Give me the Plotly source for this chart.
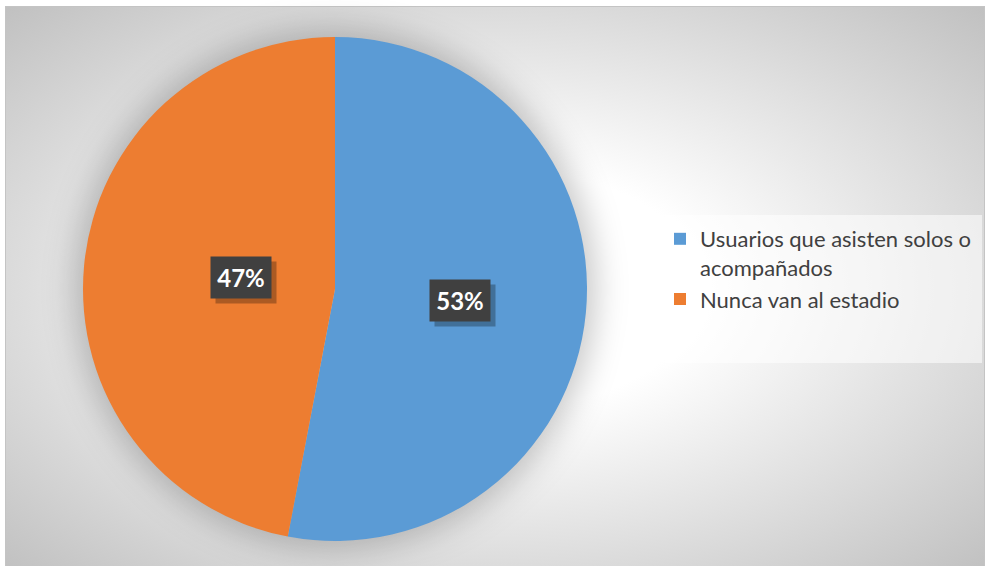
import base64
import math
import plotly.graph_objects as go

# Survey shares
categories = ["Usuarios que asisten solos o<br>acompañados", "Nunca van al estadio"]
values = [53, 47]
colors = ["#5B9BD5", "#ED7D31"]

W, H = 985, 566
FONT = "Lato"

# Pie placement (paper fractions)
dom_x = [83 / W, 587 / W]
dom_y = [25 / H, 529 / H]

pie_cx = (dom_x[0] + dom_x[1]) / 2 * W
pie_cy_up = (dom_y[0] + dom_y[1]) / 2 * H          # from bottom
pie_r = min((dom_x[1] - dom_x[0]) * W, (dom_y[1] - dom_y[0]) * H) / 2

# Chart-area background: radial grey gradient, frame and soft halo behind the pie
svg = f'''<svg xmlns="http://www.w3.org/2000/svg" width="{W}" height="{H}" viewBox="0 0 {W} {H}">
<defs>
<radialGradient id="bg" cx="0.5" cy="0.5" r="0.71">
<stop offset="0.3" stop-color="#ffffff"/>
<stop offset="1" stop-color="#c0c0c0"/>
</radialGradient>
<filter id="soft" x="-30%" y="-30%" width="160%" height="160%">
<feGaussianBlur stdDeviation="16"/>
</filter>
</defs>
<rect width="{W}" height="{H}" fill="#ffffff"/>
<rect x="5.5" y="6.5" width="979" height="565" fill="url(#bg)" stroke="#c4c4c4" stroke-width="1"/>
<circle cx="{pie_cx:.1f}" cy="{H - pie_cy_up:.1f}" r="{pie_r + 8:.1f}" fill="#000000" fill-opacity="0.22" filter="url(#soft)"/>
</svg>'''
bg_uri = "data:image/svg+xml;base64," + base64.b64encode(svg.encode("utf-8")).decode("ascii")

fig = go.Figure(
    go.Pie(
        labels=categories,
        values=values,
        marker=dict(colors=colors, line=dict(width=0)),
        sort=False,
        direction="clockwise",
        rotation=0,
        textinfo="none",
        hoverinfo="label+percent",
        domain=dict(x=dom_x, y=dom_y),
    )
)

# Percentage labels in dark boxes at half radius, middle of each slice
total = sum(values)
start = 0.0
annotations = []
for v in values:
    frac = v / total
    mid = (start + frac / 2) * 2 * math.pi
    start += frac
    px = pie_cx + 0.5 * pie_r * math.sin(mid)
    py = pie_cy_up + 0.5 * pie_r * math.cos(mid)
    txt = f"{frac * 100:.0f}%"
    common = dict(x=px / W, y=py / H, xref="paper", yref="paper", showarrow=False,
                  width=50, height=31, borderpad=5)
    # drop shadow behind the label box
    annotations.append(dict(common, text="\u00a0", xshift=5, yshift=-5,
                            bgcolor="rgba(0,0,0,0.28)",
                            font=dict(family=FONT, size=24, color="rgba(0,0,0,0)")))
    annotations.append(dict(common, text=f"<b>{txt}</b>", bgcolor="#404040",
                            font=dict(family=FONT, size=24, color="#ffffff")))

fig.update_layout(
    width=W,
    height=H,
    margin=dict(l=0, r=0, t=0, b=0),
    paper_bgcolor="#ffffff",
    plot_bgcolor="rgba(0,0,0,0)",
    images=[dict(source=bg_uri, xref="paper", yref="paper", x=0, y=1, sizex=1, sizey=1,
                 xanchor="left", yanchor="top", sizing="stretch", layer="below")],
    shapes=[dict(type="rect", xref="paper", yref="paper",
                 x0=665 / W, x1=982 / W, y0=1 - 363 / H, y1=1 - 215 / H,
                 fillcolor="rgba(255,255,255,0.55)", line=dict(width=0), layer="below")],
    annotations=annotations,
    showlegend=True,
    legend=dict(
        x=660 / W, y=1 - 218 / H, xanchor="left", yanchor="top",
        bgcolor="rgba(0,0,0,0)", valign="top",
        font=dict(family=FONT, size=22, color="#404040"),
        itemclick=False, itemdoubleclick=False,
    ),
)

fig.write_html("out.html")
